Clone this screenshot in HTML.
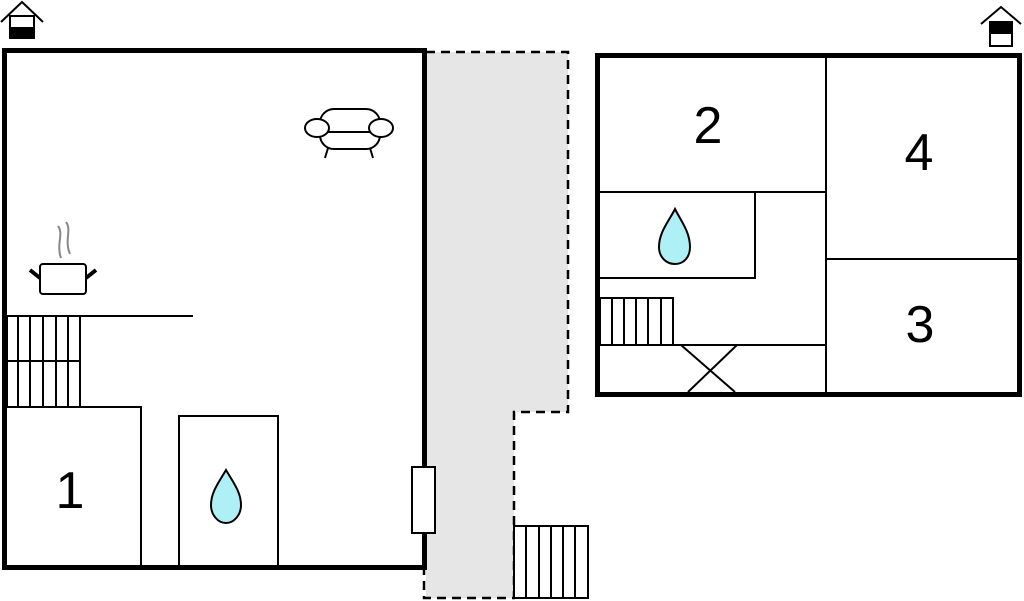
<!DOCTYPE html>
<html><head><meta charset="utf-8"><style>html,body{margin:0;padding:0;background:#fff}svg{display:block}</style></head>
<body>
<svg width="1024" height="601" viewBox="0 0 1024 601" xmlns="http://www.w3.org/2000/svg" font-family="Liberation Sans, sans-serif">
<!-- terrace -->
<path d="M426 52 H568 V412 H514 V598 H426 Z" fill="#e6e6e6"/>
<g stroke="#000" stroke-width="2.5" fill="none" stroke-dasharray="9,6">
<path d="M426 52 H568 V412 H514 V598 H424 V568"/>
</g>
<!-- left house -->
<rect x="4.5" y="50.5" width="420" height="517" fill="none" stroke="#000" stroke-width="5"/>
<g stroke="#000" stroke-width="2" fill="none">
<line x1="7" y1="316" x2="193" y2="316"/>
<rect x="7" y="316" width="73" height="91"/>
<line x1="7" y1="361" x2="80" y2="361"/>
<line x1="18" y1="316" x2="18" y2="407"/><line x1="30" y1="316" x2="30" y2="407"/><line x1="43" y1="316" x2="43" y2="407"/><line x1="56" y1="316" x2="56" y2="407"/><line x1="68" y1="316" x2="68" y2="407"/>
<path d="M7 407 H141 V568"/>
<rect x="179" y="416" width="99" height="152"/>
</g>
<rect x="412" y="467" width="23" height="66" fill="#fff" stroke="#000" stroke-width="2"/>
<!-- outside stairs -->
<g stroke="#000" stroke-width="2" fill="#fff">
<rect x="514" y="526" width="74" height="72"/>
<line x1="526" y1="526" x2="526" y2="598"/><line x1="539" y1="526" x2="539" y2="598"/><line x1="551" y1="526" x2="551" y2="598"/><line x1="563" y1="526" x2="563" y2="598"/><line x1="575" y1="526" x2="575" y2="598"/>
</g>
<!-- drops -->
<path d="M226 470 C219 482 211 492 211 505 C211 515 218 523 226 523 C234 523 241 515 241 505 C241 492 233 482 226 470 Z" fill="#aef0f5" stroke="#000" stroke-width="2"/>
<path d="M675 209 C669 221 659 232 659 247 C659 257 666 264 675 264 C684 264 690 257 690 247 C690 232 681 221 675 209 Z" fill="#aef0f5" stroke="#000" stroke-width="2"/>
<!-- pot -->
<g stroke="#000" stroke-width="2" fill="#fff">
<rect x="40" y="264" width="46" height="30" rx="3"/>
</g>
<g stroke="#000" stroke-width="4"><line x1="30" y1="270" x2="40" y2="278"/><line x1="86" y1="278" x2="96" y2="270"/></g>
<g stroke="#888" stroke-width="2" fill="none"><path d="M58 226 C64 234 56 244 61 258"/><path d="M66 222 C72 230 64 240 70 254"/></g>
<!-- sofa -->
<g stroke="#000" stroke-width="2" fill="#fff">
<line x1="328" y1="148" x2="325" y2="158"/><line x1="370" y1="148" x2="373" y2="158"/>
<rect x="320" y="109" width="60" height="40" rx="14"/>
<line x1="325" y1="132" x2="375" y2="132"/>
<ellipse cx="317" cy="128" rx="12" ry="9"/>
<ellipse cx="381" cy="128" rx="12" ry="9"/>
</g>
<!-- right house -->
<rect x="597.5" y="55.5" width="422" height="339" fill="none" stroke="#000" stroke-width="5"/>
<g stroke="#000" stroke-width="2" fill="none">
<line x1="826" y1="55" x2="826" y2="394"/>
<line x1="600" y1="192" x2="826" y2="192"/>
<path d="M600 278 H755 V192"/>
<line x1="826" y1="259" x2="1018" y2="259"/>
<rect x="600" y="298" width="73" height="47"/>
<line x1="612" y1="298" x2="612" y2="345"/><line x1="624" y1="298" x2="624" y2="345"/><line x1="636" y1="298" x2="636" y2="345"/><line x1="648" y1="298" x2="648" y2="345"/><line x1="661" y1="298" x2="661" y2="345"/>
<line x1="600" y1="345" x2="826" y2="345"/>
<line x1="681" y1="345" x2="735" y2="392"/><line x1="737" y1="345" x2="688" y2="392"/>
</g>
<!-- labels -->
<g font-size="52" text-anchor="middle" fill="#000">
<text x="70" y="508">1</text>
<text x="708" y="143">2</text>
<text x="919" y="170">4</text>
<text x="920" y="342">3</text>
</g>
<!-- house icons -->
<g stroke="#000" stroke-width="2" fill="#fff">
<polyline points="1,22 22,2 43,22"/>
<rect x="10" y="16" width="24" height="22"/>
<rect x="10" y="28" width="24" height="10" fill="#000"/>
<polyline points="981,24 1001,7 1021,24"/>
<rect x="990" y="22" width="22" height="24"/>
<rect x="990" y="22" width="22" height="11" fill="#000"/>
</g>
</svg>
</body></html>
